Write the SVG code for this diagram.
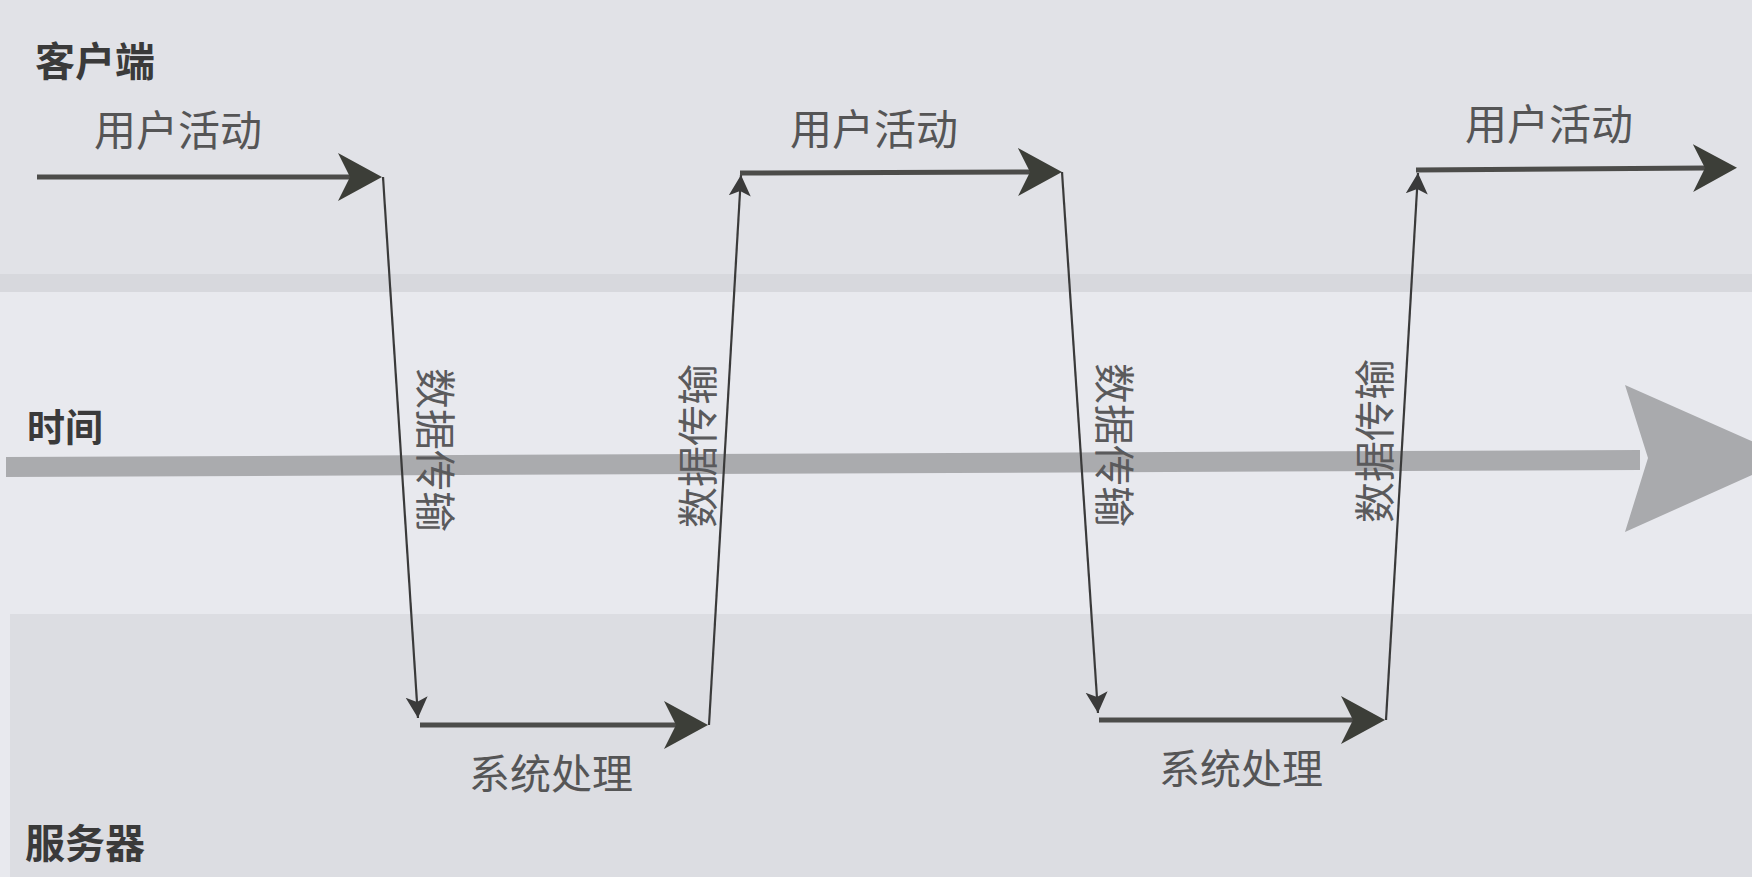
<svg xmlns="http://www.w3.org/2000/svg" width="1752" height="877" viewBox="0 0 1752 877">
<style>
.lbl{font-family:"Noto Sans CJK SC","Noto Sans",sans-serif;fill:#3a3a3a;font-size:40px;font-weight:bold}
.act{font-family:"Noto Sans CJK SC","Noto Sans",sans-serif;fill:#555556;font-size:42px;text-anchor:middle}
.vt{font-family:"Noto Sans CJK SC","Noto Sans",sans-serif;fill:#5a5a5c;font-size:41px;text-anchor:middle;dominant-baseline:central}
.thick{stroke:#4c4c4a;stroke-width:5;fill:none}
.thin{stroke:#3a3a3a;stroke-width:2.2;fill:none}
</style>
<defs>
<marker id="big" markerUnits="userSpaceOnUse" markerWidth="50" markerHeight="50" viewBox="0 0 50 50" refX="12" refY="25" orient="auto">
<path d="M0,1 L44,25 L0,49 L12,25 Z" fill="#3c3e38"/>
</marker>
<marker id="small" markerUnits="userSpaceOnUse" markerWidth="24" markerHeight="24" viewBox="0 0 24 24" refX="21" refY="12" orient="auto">
<path d="M0,1 L21,12 L0,23 L5,12 Z" fill="#3a3a3a"/>
</marker>
</defs>
<g id="background">
<rect x="0" y="0" width="1752" height="877" fill="#e8e9ee"/>
<rect x="0" y="0" width="1752" height="292" fill="#e1e2e7"/>
<rect x="0" y="274" width="1752" height="18" fill="#d7d8dd"/>
<rect x="10" y="614" width="1742" height="263" fill="#dcdde2"/>
</g>
<g id="time-axis">
<polygon points="6,457 1640,450 1640,470 6,477" fill="#aaabae"/>
<polygon points="1625,385 1790,458 1625,532 1648,458" fill="#a9aaad"/>
</g>
<g id="connectors">
<line class="thick" x1="37" y1="177" x2="350" y2="177" marker-end="url(#big)"/>
<line class="thin" x1="383" y1="177" x2="418" y2="718" marker-end="url(#small)"/>
<line class="thick" x1="420" y1="725" x2="676" y2="725" marker-end="url(#big)"/>
<line class="thin" x1="709" y1="725" x2="741" y2="175" marker-end="url(#small)"/>
<line class="thick" x1="740" y1="173" x2="1030" y2="172" marker-end="url(#big)"/>
<line class="thin" x1="1062" y1="172" x2="1098" y2="713" marker-end="url(#small)"/>
<line class="thick" x1="1099" y1="720" x2="1353" y2="720" marker-end="url(#big)"/>
<line class="thin" x1="1386" y1="720" x2="1418" y2="173" marker-end="url(#small)"/>
<line class="thick" x1="1416" y1="170" x2="1705" y2="168" marker-end="url(#big)"/>
</g>
<g id="label-client"><text class="lbl" x="35" y="76">客户端</text></g>
<g id="label-time"><text class="lbl" x="27" y="441" style="font-size:38px">时间</text></g>
<g id="label-server"><text class="lbl" x="25" y="858">服务器</text></g>
<g id="activity-1"><text class="act" x="178" y="146">用户活动</text></g>
<g id="activity-2"><text class="act" x="874" y="145">用户活动</text></g>
<g id="activity-3"><text class="act" x="1549" y="140">用户活动</text></g>
<g id="process-1"><text class="act" x="551" y="789" style="font-size:41px">系统处理</text></g>
<g id="process-2"><text class="act" x="1241" y="784" style="font-size:41px">系统处理</text></g>
<g id="transfer-1"><text class="vt" transform="translate(438,450) rotate(90)">数据传输</text></g>
<g id="transfer-2"><text class="vt" transform="translate(695,446) rotate(-90)">数据传输</text></g>
<g id="transfer-3"><text class="vt" transform="translate(1117,445) rotate(90)">数据传输</text></g>
<g id="transfer-4"><text class="vt" transform="translate(1372,441) rotate(-90)">数据传输</text></g>
</svg>
